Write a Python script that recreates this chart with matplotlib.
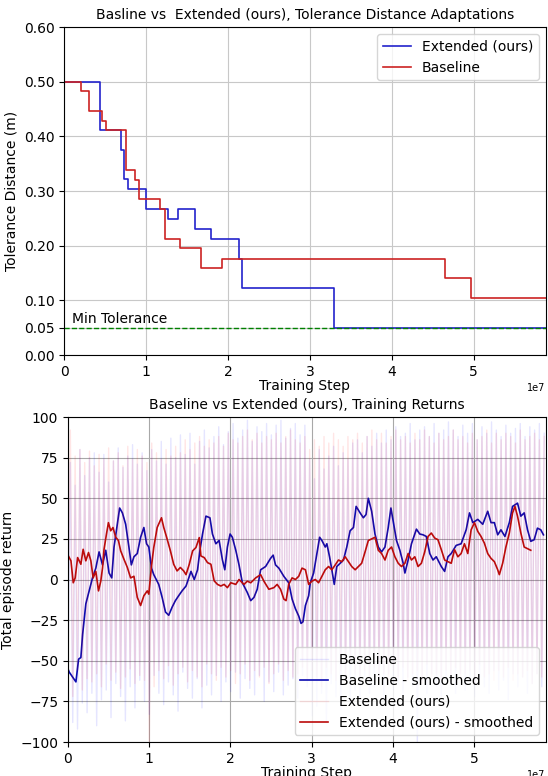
import numpy as np
import matplotlib
matplotlib.use("Agg")
import matplotlib.pyplot as plt

# tolerance steps (x in 1e7 training steps, value in m)
ext_tol_x = [0.0, 0.444, 0.70, 0.726, 0.78, 1.0, 1.27, 1.39, 1.60, 1.79, 2.13, 2.17, 3.29, 5.9]
ext_tol_y = [0.50, 0.411, 0.375, 0.322, 0.303, 0.267, 0.249, 0.267, 0.230, 0.213, 0.176, 0.1225, 0.05, 0.05]
base_tol_x = [0.0, 0.21, 0.30, 0.46, 0.51, 0.75, 0.87, 0.915, 1.17, 1.23, 1.42, 1.67, 1.93, 4.65, 4.97, 5.9]
base_tol_y = [0.50, 0.484, 0.447, 0.429, 0.411, 0.339, 0.321, 0.285, 0.267, 0.213, 0.195, 0.159, 0.176, 0.141, 0.105, 0.105]
min_tol = 0.05

# raw episode returns
base_raw = [-60, 72, -88, 58, -92, 80, -76, 64, -82, 75, -70, 78, -90, 66, -74, 77, -68, 60, -85, 73,
            -64, 81, -72, 69, -87, 76, -66, 83, -79, 71, -62, 78, -75, 67, -83, 80, -59, 73, -70, 85,
            -77, 71, -63, 87, -71, 75, -81, 89, -57, 77, -67, 90, -73, 71, -61, 85, -79, 92, -65, 81,
            -71, 88, -59, 94, -75, 83, -63, 91, -69, 96, -57, 87, -73, 92, -61, 98, -67, 85, -71, 94,
            -59, 91, -75, 96, -63, 89, -69, 95, -57, 98, -71, 87, -65, 93, -61, 96, -73, 89, -59, 95,
            -66, 74, -84, 62, -78, 80, -70, 68, -88, 76, -64, 82, -72, 70, -80, 78, -62, 74, -76, 84,
            -68, 86, -74, 78, -60, 88, -70, 82, -66, 90, -62, 84, -74, 92, -58, 86, -68, 94, -64, 88,
            -72, 90, -60, 96, -66, 86, -100, 92, -62, 94, -70, 88, -58, 96, -66, 90, -72, 92, -60, 97,
            -64, 92, -70, 88, -58, 95, -68, 90, -62, 96, -72, 86, -60, 94, -66, 90, -70, 97, -56, 92,
            -68, 88, -62, 95, -74, 90, -58, 93, -66, 96, -60, 88, -70, 94, -64, 92, -58, 96, -66, 90]
ext_raw = [-20, 92, -72, 76, -56, 80, -68, 72, -61, 79, -63, 70, -58, 77, -66, 74, -52, 81, -62, 73,
           -57, 78, -67, 70, -60, 82, -55, 74, -64, 80, -59, 76, -62, 72, -100, 84, -66, 78, -56, 74,
           -61, 80, -53, 76, -65, 82, -58, 78, -54, 86, -63, 80, -56, 84, -60, 88, -66, 82, -52, 86,
           -58, 84, -62, 88, -54, 82, -60, 90, -56, 86, -64, 84, -58, 88, -52, 92, -62, 86, -56, 90,
           -60, 84, -54, 88, -64, 86, -58, 90, -52, 84, -62, 88, -56, 92, -60, 86, -58, 84, -54, 88,
           -62, 80, -56, 86, -60, 82, -66, 88, -54, 84, -58, 90, -62, 86, -56, 82, -64, 88, -52, 86,
           -58, 90, -62, 84, -56, 88, -60, 92, -54, 86, -64, 90, -58, 84, -62, 88, -56, 92, -60, 86,
           -54, 88, -62, 84, -58, 90, -56, 86, -64, 92, -52, 88, -60, 84, -58, 90, -62, 86, -56, 88,
           -60, 92, -54, 86, -62, 88, -58, 84, -56, 90, -64, 86, -52, 88, -60, 92, -58, 84, -62, 90,
           -56, 86, -60, 90, -54, 88, -62, 84, -58, 92, -60, 86, -56, 88, -64, 90, -58, 86, -60, 88]

# smoothed returns (x in 1e7)
base_sm_x = [0.0, 0.016, 0.098, 0.131, 0.159, 0.180, 0.220, 0.261, 0.302, 0.343, 0.383, 0.425, 0.465, 0.506,
             0.539, 0.567, 0.608, 0.636, 0.670, 0.710, 0.750, 0.780, 0.812, 0.853, 0.894, 0.934, 0.967, 0.995,
             1.028, 1.056, 1.117, 1.159, 1.200, 1.240, 1.282, 1.322, 1.362, 1.404, 1.453, 1.514, 1.554, 1.595,
             1.624, 1.656, 1.698, 1.747, 1.778, 1.820, 1.860, 1.901, 1.930, 1.962, 1.995, 2.023, 2.065, 2.105,
             2.146, 2.207, 2.249, 2.289, 2.329, 2.371, 2.432, 2.493, 2.525, 2.554, 2.595, 2.656, 2.717, 2.758,
             2.799, 2.840, 2.868, 2.892, 2.922, 2.962, 2.982, 3.023, 3.064, 3.097, 3.125, 3.166, 3.186, 3.219,
             3.247, 3.277, 3.308, 3.350, 3.390, 3.431, 3.472, 3.513, 3.546, 3.595, 3.635, 3.668, 3.696, 3.737,
             3.778, 3.819, 3.859, 3.901, 3.941, 3.974, 4.002, 4.043, 4.084, 4.125, 4.146, 4.186, 4.227, 4.288,
             4.329, 4.370, 4.410, 4.452, 4.492, 4.532, 4.594, 4.635, 4.676, 4.716, 4.777, 4.838, 4.900, 4.941,
             4.982, 5.043, 5.104, 5.165, 5.206, 5.247, 5.288, 5.328, 5.377, 5.431, 5.471, 5.532, 5.573, 5.614,
             5.655, 5.695, 5.737, 5.777, 5.818, 5.851]
base_sm_y = [-55, -57, -63, -49, -48, -34, -15, -7, 1, 7, 17, 9, 18, 4,
             1, 20, 34, 44, 41, 34, 20, 9, 14, 16, 26, 32, 22, 20,
             7, 3, -3, -11, -20, -22, -17, -13, -10, -7, -4, 5, 0, 6,
             18, 28, 39, 38, 28, 22, 24, 12, 6, 20, 28, 26, 18, 9,
             -2, -8, -13, -11, -6, 6, 8, 13, 15, 9, 7, 2, -2, -12,
             -18, -22.5, -27, -26, -16, -10, -2, 4, 16, 26, 24, 20, 22, 14,
             6, -3, 8, 10, 12, 20, 30, 32, 45, 41, 38, 40, 50, 42,
             28, 20, 17, 20, 32, 44, 36, 24, 18, 10, 4, 12, 22, 31,
             28, 27.5, 26.5, 16, 12, 14, 8, 5, 14, 16, 21, 22, 30.6, 41,
             35, 37, 34, 42, 35, 35, 27.5, 30.6, 26.5, 35, 45, 47, 39, 41,
             30.6, 23.5, 24.5, 31.6, 30.6, 27.5]
ext_sm_x = [0.0, 0.016, 0.037, 0.065, 0.089, 0.119, 0.159, 0.187, 0.220, 0.253, 0.282, 0.310, 0.343, 0.376,
            0.404, 0.425, 0.444, 0.474, 0.498, 0.526, 0.554, 0.588, 0.621, 0.649, 0.689, 0.731, 0.771, 0.812,
            0.853, 0.894, 0.934, 0.976, 0.995, 1.028, 1.056, 1.098, 1.151, 1.179, 1.220, 1.261, 1.301, 1.343,
            1.383, 1.424, 1.453, 1.493, 1.534, 1.575, 1.616, 1.636, 1.677, 1.717, 1.759, 1.799, 1.840, 1.881,
            1.922, 1.962, 2.004, 2.065, 2.105, 2.166, 2.207, 2.249, 2.310, 2.371, 2.411, 2.472, 2.534, 2.574,
            2.616, 2.656, 2.684, 2.717, 2.758, 2.799, 2.840, 2.880, 2.922, 2.962, 3.002, 3.044, 3.084, 3.125,
            3.166, 3.207, 3.247, 3.289, 3.329, 3.370, 3.411, 3.452, 3.492, 3.534, 3.574, 3.614, 3.656, 3.696,
            3.737, 3.778, 3.819, 3.859, 3.901, 3.941, 3.982, 4.023, 4.064, 4.104, 4.146, 4.186, 4.227, 4.268,
            4.308, 4.349, 4.390, 4.431, 4.471, 4.513, 4.553, 4.594, 4.635, 4.676, 4.716, 4.757, 4.798, 4.838,
            4.879, 4.920, 4.961, 5.002, 5.043, 5.083, 5.124, 5.165, 5.206, 5.247, 5.288, 5.308, 5.349, 5.389,
            5.431, 5.471, 5.500, 5.532, 5.573, 5.614, 5.655, 5.695]
ext_sm_y = [15, 13.5, 11.5, -2, 1, 13.5, 9.4, 18.6, 11.5, 16.6, 11.5, 1, 5, -7,
            -1, 7, 18.6, 28, 35, 30, 32, 26, 24, 17.6, 12.5, 7.4, 1, 2,
            -11, -16, -10, -7, -9, 8.4, 19.7, 32, 38, 32, 25, 17.6, 9.4, 5.3,
            7.4, 5.3, 3, 9.4, 17.6, 19.7, 25.8, 14.5, 13.5, 10.4, 9.4, -0.8, -3, -4,
            -3, -5, -2, -3, 0, -3, -1, -2, 1, 3, -1, -6, -5, -3,
            -6, -12, -13, -3, 1, 0, 2, 7, 6, -3, -1, 0, -2, 2,
            6, 8, 6, 9, 12, 11, 14, 11, 8, 6, 8, 10, 17, 24,
            25, 26, 18, 16, 12, 18, 20, 14, 10, 8, 10, 16, 12, 14,
            8, 10, 17, 26.5, 28.6, 25.5, 24.5, 18.4, 12, 11, 10, 18.4, 14, 16,
            22, 16, 30.6, 35, 29.6, 26.5, 22.4, 16, 13, 11, 6, 3, 10, 20,
            28.6, 41, 45, 39, 28.6, 20, 19, 18]

x_max = 5.88e7
blue_top, red_top = '#2323cc', '#cc2323'
blue_sm, red_sm = '#0b0bb0', '#bb0b0b'

fig = plt.figure(figsize=(5.48, 7.76), dpi=100)

# --- tolerance distance plot ---
ax1 = fig.add_axes([0.117, 0.5425, 0.879, 0.4225])
ax1.step(np.array(ext_tol_x) * 1e7, ext_tol_y, where='post', color=blue_top, lw=1.2, label='Extended (ours)')
ax1.step(np.array(base_tol_x) * 1e7, base_tol_y, where='post', color=red_top, lw=1.2, label='Baseline')
ax1.axhline(min_tol, color='green', linestyle='--', lw=1)
ax1.text(0.1e7, 0.058, 'Min Tolerance', fontsize=10)
ax1.set_xlim(0, x_max)
ax1.set_ylim(0, 0.6)
ax1.set_yticks([0.0, 0.05, 0.1, 0.2, 0.3, 0.4, 0.5, 0.6])
ax1.set_yticklabels(['0.00', '0.05', '0.10', '0.20', '0.30', '0.40', '0.50', '0.60'])
ax1.tick_params(labelsize=10)
ax1.xaxis.get_offset_text().set_fontsize(7)
ax1.grid(True, color='#c8c8c8')
ax1.set_title('Basline vs  Extended (ours), Tolerance Distance Adaptations', fontsize=10)
ax1.set_xlabel('Training Step', fontsize=10, labelpad=0)
ax1.set_ylabel('Tolerance Distance (m)', fontsize=10)
ax1.legend(loc='upper right', fontsize=10)

# --- training returns plot ---
ax2 = fig.add_axes([0.124, 0.0438, 0.872, 0.4188])
raw_x = np.linspace(0, 5.86e7, len(base_raw))
ax2.plot(raw_x, base_raw, color='blue', alpha=0.1, lw=1, label='Baseline')
ax2.plot(np.array(base_sm_x) * 1e7, base_sm_y, color=blue_sm, lw=1.2, label='Baseline - smoothed')
ax2.plot(raw_x, ext_raw, color='red', alpha=0.1, lw=1, label='Extended (ours)')
ax2.plot(np.array(ext_sm_x) * 1e7, ext_sm_y, color=red_sm, lw=1.2, label='Extended (ours) - smoothed')
ax2.set_xlim(0, x_max)
ax2.set_ylim(-100, 100)
ax2.set_yticks(np.arange(-100, 101, 25))
ax2.tick_params(labelsize=10)
ax2.xaxis.get_offset_text().set_fontsize(7)
ax2.grid(True, color='#a8a8a8')
ax2.set_title('Baseline vs Extended (ours), Training Returns', fontsize=10)
ax2.set_xlabel('Training Step', fontsize=10, labelpad=0)
ax2.set_ylabel('Total episode return', fontsize=10)
ax2.legend(loc='lower right', fontsize=10)

fig.savefig('out.png', dpi=100)
